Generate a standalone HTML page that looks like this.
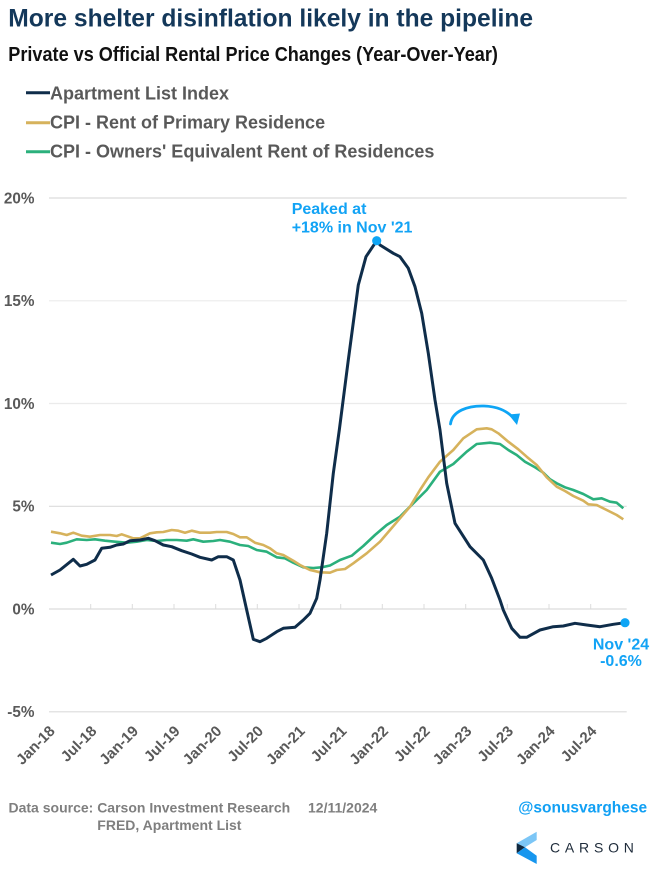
<!DOCTYPE html>
<html>
<head>
<meta charset="utf-8">
<style>
  html,body{margin:0;padding:0;background:#fff;}
  body{width:660px;height:880px;overflow:hidden;}
  svg{display:block;}
  text{font-family:"Liberation Sans",Arial,sans-serif;font-weight:bold;}
</style>
</head>
<body>
<svg width="660" height="880" viewBox="0 0 660 880" xmlns="http://www.w3.org/2000/svg">
  <rect x="0" y="0" width="660" height="880" fill="#ffffff"/>

  <!-- Title -->
  <text x="8.3" y="26.7" font-size="24.6" fill="#14385a">More shelter disinflation likely in the pipeline</text>
  <text x="8.3" y="61" font-size="20" fill="#111111" transform="translate(8.3 0) scale(0.905 1) translate(-8.3 0)">Private vs Official Rental Price Changes (Year-Over-Year)</text>

  <!-- Legend -->
  <line x1="26" y1="92.7" x2="50" y2="92.7" stroke="#0f2d4a" stroke-width="3"/>
  <text x="50" y="99.4" font-size="18" fill="#595959">Apartment List Index</text>
  <line x1="26" y1="122.7" x2="50" y2="122.7" stroke="#d6b25c" stroke-width="3"/>
  <text x="50" y="128.4" font-size="18" fill="#595959">CPI - Rent of Primary Residence</text>
  <line x1="26" y1="151.7" x2="50" y2="151.7" stroke="#2bb07c" stroke-width="3"/>
  <text x="50" y="157.4" font-size="18" fill="#595959">CPI - Owners' Equivalent Rent of Residences</text>

  <!-- Gridlines -->
  <g stroke="#dcdcdc" stroke-width="1.2">
    <line x1="49" y1="198" x2="626.7" y2="198"/>
    <line x1="49" y1="300.8" x2="626.7" y2="300.8" stroke="#ebebeb"/>
    <line x1="49" y1="403.5" x2="626.7" y2="403.5" stroke="#ebebeb"/>
    <line x1="49" y1="506.3" x2="626.7" y2="506.3"/>
    <line x1="49" y1="609" x2="626.7" y2="609"/>
    <line x1="49" y1="711.8" x2="626.7" y2="711.8"/>
  </g>
  <!-- tick marks on 0 line -->
  <g stroke="#dcdcdc" stroke-width="1">
    <line x1="90.7" y1="604" x2="90.7" y2="609"/>
    <line x1="132.3" y1="604" x2="132.3" y2="609"/>
    <line x1="174" y1="604" x2="174" y2="609"/>
    <line x1="215.7" y1="604" x2="215.7" y2="609"/>
    <line x1="257.3" y1="604" x2="257.3" y2="609"/>
    <line x1="299" y1="604" x2="299" y2="609"/>
    <line x1="340.7" y1="604" x2="340.7" y2="609"/>
    <line x1="382.3" y1="604" x2="382.3" y2="609"/>
    <line x1="424" y1="604" x2="424" y2="609"/>
    <line x1="465.7" y1="604" x2="465.7" y2="609"/>
    <line x1="507.3" y1="604" x2="507.3" y2="609"/>
    <line x1="549" y1="604" x2="549" y2="609"/>
    <line x1="590.7" y1="604" x2="590.7" y2="609"/>
  </g>

  <!-- Y labels -->
  <g font-size="15.3" fill="#595959" text-anchor="end">
    <text x="34.5" y="203.4">20%</text>
    <text x="34.5" y="306.2">15%</text>
    <text x="34.5" y="408.9">10%</text>
    <text x="34.5" y="511.7">5%</text>
    <text x="34.5" y="614.4">0%</text>
    <text x="34.5" y="717.2">-5%</text>
  </g>

  <!-- X labels -->
  <g font-size="15" fill="#595959" text-anchor="end">
    <text transform="translate(55.8 732) rotate(-45)">Jan-18</text>
    <text transform="translate(97.5 732) rotate(-45)">Jul-18</text>
    <text transform="translate(139.1 732) rotate(-45)">Jan-19</text>
    <text transform="translate(180.8 732) rotate(-45)">Jul-19</text>
    <text transform="translate(222.5 732) rotate(-45)">Jan-20</text>
    <text transform="translate(264.1 732) rotate(-45)">Jul-20</text>
    <text transform="translate(305.8 732) rotate(-45)">Jan-21</text>
    <text transform="translate(347.5 732) rotate(-45)">Jul-21</text>
    <text transform="translate(389.1 732) rotate(-45)">Jan-22</text>
    <text transform="translate(430.8 732) rotate(-45)">Jul-22</text>
    <text transform="translate(472.5 732) rotate(-45)">Jan-23</text>
    <text transform="translate(514.1 732) rotate(-45)">Jul-23</text>
    <text transform="translate(555.8 732) rotate(-45)">Jan-24</text>
    <text transform="translate(597.5 732) rotate(-45)">Jul-24</text>
  </g>

  <!-- Series: OER (green) -->
  <polyline fill="none" stroke="#2bb07c" stroke-width="2.6" stroke-linejoin="round"
    points="51,542.7 60,544 66.7,542.7 76.7,539.3 86.7,540 95,539.3 105,540.7 115,541.7 126.7,542.7 136.7,541.7 146.7,540 156.7,541 166.7,540 176.7,540 186.7,540.7 193.3,539.3 203.3,541.7 213.3,541 220,540 230,541.7 240,545 248.3,546 256.7,550 266.7,551.7 276.7,557.3 285,558.3 293.3,562.7 303.3,567.3 313.3,568 321.7,567.3 330,565.5 340,560 351.7,555.7 363.3,546 375,535 386.7,525 400,516.7 413.3,503.3 426.7,490 440,471.7 453.3,464 466.7,451.7 476.7,444 490,442.7 500,444 508.3,450 516.7,455 525,461.7 535,467.3 543.3,472.7 550,479.3 556.7,483.3 565,487.3 573.3,490 583.3,494 593.3,499.3 601.7,498.3 610,501.7 616.7,502.7 623.3,508.3"/>

  <!-- Series: Rent (gold) -->
  <polyline fill="none" stroke="#d6b25c" stroke-width="2.6" stroke-linejoin="round"
    points="51,531.7 60,533.3 66.7,535 73.3,532.7 81.7,535.7 90,536.7 100,535 110,535 116.7,536 121.7,534.3 133.3,538.3 140,538.3 150,533.3 156.7,532.3 163.3,532 171.7,530 178.3,530.7 185,532.7 191.7,530.7 200,532.7 210,532.7 216.7,532 226.7,532 233.3,534 240,537.3 246.7,537.3 255,542.7 263.3,545 270,548.3 276.7,553.3 283.3,555 293.3,560.7 300,565 303.3,566.7 310,570 313.3,570.7 320,572.3 330,572.7 336.7,570 345,569 353.3,563.3 366.7,553.3 380,541.7 390,530 400,518.3 410,506.7 420,490 428.3,477.3 440,461.7 453.3,450 463.3,438.3 476.7,429.3 486.7,428.3 491.7,429.3 498.3,433.3 508.3,441.7 518.3,449.3 526.7,456.7 536.7,465 546.7,477.3 556.7,486.7 565,491 573.3,496 583.3,500.7 588.3,504.3 596.7,505 606.7,510 616.7,515 623.3,519.3"/>

  <!-- Series: Apartment List (navy) -->
  <polyline fill="none" stroke="#0f2d4a" stroke-width="3" stroke-linejoin="round"
    points="51,575 60,570 73.3,559.3 80,566 86.7,564.3 95,560 101.7,548.3 110,547.3 116.7,545 123.3,544 130,540.7 140,540 148.3,538.3 155,540.7 163.3,545 171.7,546.7 181.7,550.7 191.7,554 200,557.3 211.7,560 218.3,556.7 226.7,556.7 233.3,560 240,580 246.7,610 253.3,639.3 260,641.7 266.7,638.3 276.7,631.7 283.3,628.3 295,627.3 303.3,620 310,613.3 316.7,598.3 320,580 326.7,533.3 333.3,473.3 339.3,430 348.3,360 358.3,285 366,256.7 376.7,240.7 380,245 393.3,253.3 400,256.7 408.3,268.3 415,286.7 421.7,313.3 428.3,353.3 435,400 440,430 446.7,483.3 455,523.3 470,546.7 483.3,560 491.7,578.3 500,600 503.3,610 511.7,628.3 520,637.3 526.7,637.3 540,630 553.3,626.7 563.3,626 575,623.3 586.7,625 600,626.7 613.3,624.3 625,622.7"/>

  <!-- Curved arrow -->
  <path d="M450.5,424 C452,411 468,405.5 484,406 C497,406.5 505,410 511.5,416" fill="none" stroke="#0ea5f5" stroke-width="2.8" stroke-linecap="round"/>
  <polygon points="508.5,414.5 520,413.5 517,425" fill="#0ea5f5"/>

  <!-- Markers -->
  <circle cx="376.7" cy="240.7" r="4.6" fill="#0ea5f5"/>
  <circle cx="625" cy="622.7" r="4.6" fill="#0ea5f5"/>

  <!-- Annotations -->
  <g font-size="16" fill="#12a3f5">
    <text x="291.7" y="214.2">Peaked at</text>
    <text x="291.7" y="232.7">+18% in Nov '21</text>
    <text x="621" y="649.3" text-anchor="middle">Nov '24</text>
    <text x="621" y="666" text-anchor="middle">-0.6%</text>
  </g>

  <!-- Footer -->
  <g font-size="14" fill="#7f7f7f">
    <text x="8.5" y="812.7">Data source: Carson Investment Research</text>
    <text x="308" y="812.7">12/11/2024</text>
    <text x="97.3" y="830">FRED, Apartment List</text>
  </g>
  <text x="518.3" y="812.3" font-size="15.5" fill="#11a0f4">@sonusvarghese</text>

  <!-- Carson logo -->
  <polygon points="536.7,831.7 536.7,840 525,847.3 516.7,843.3" fill="#7cc6f6"/>
  <polygon points="516.7,843.3 525,847.3 516.7,853.3" fill="#10283f"/>
  <polygon points="516.7,853.3 525,847.3 536.7,855.7 536.7,864" fill="#1796ee"/>
  <text x="550" y="852.7" font-size="14" font-weight="normal" style="font-weight:normal;letter-spacing:4.8px" fill="#1e2b3a">CARSON</text>
</svg>
</body>
</html>
